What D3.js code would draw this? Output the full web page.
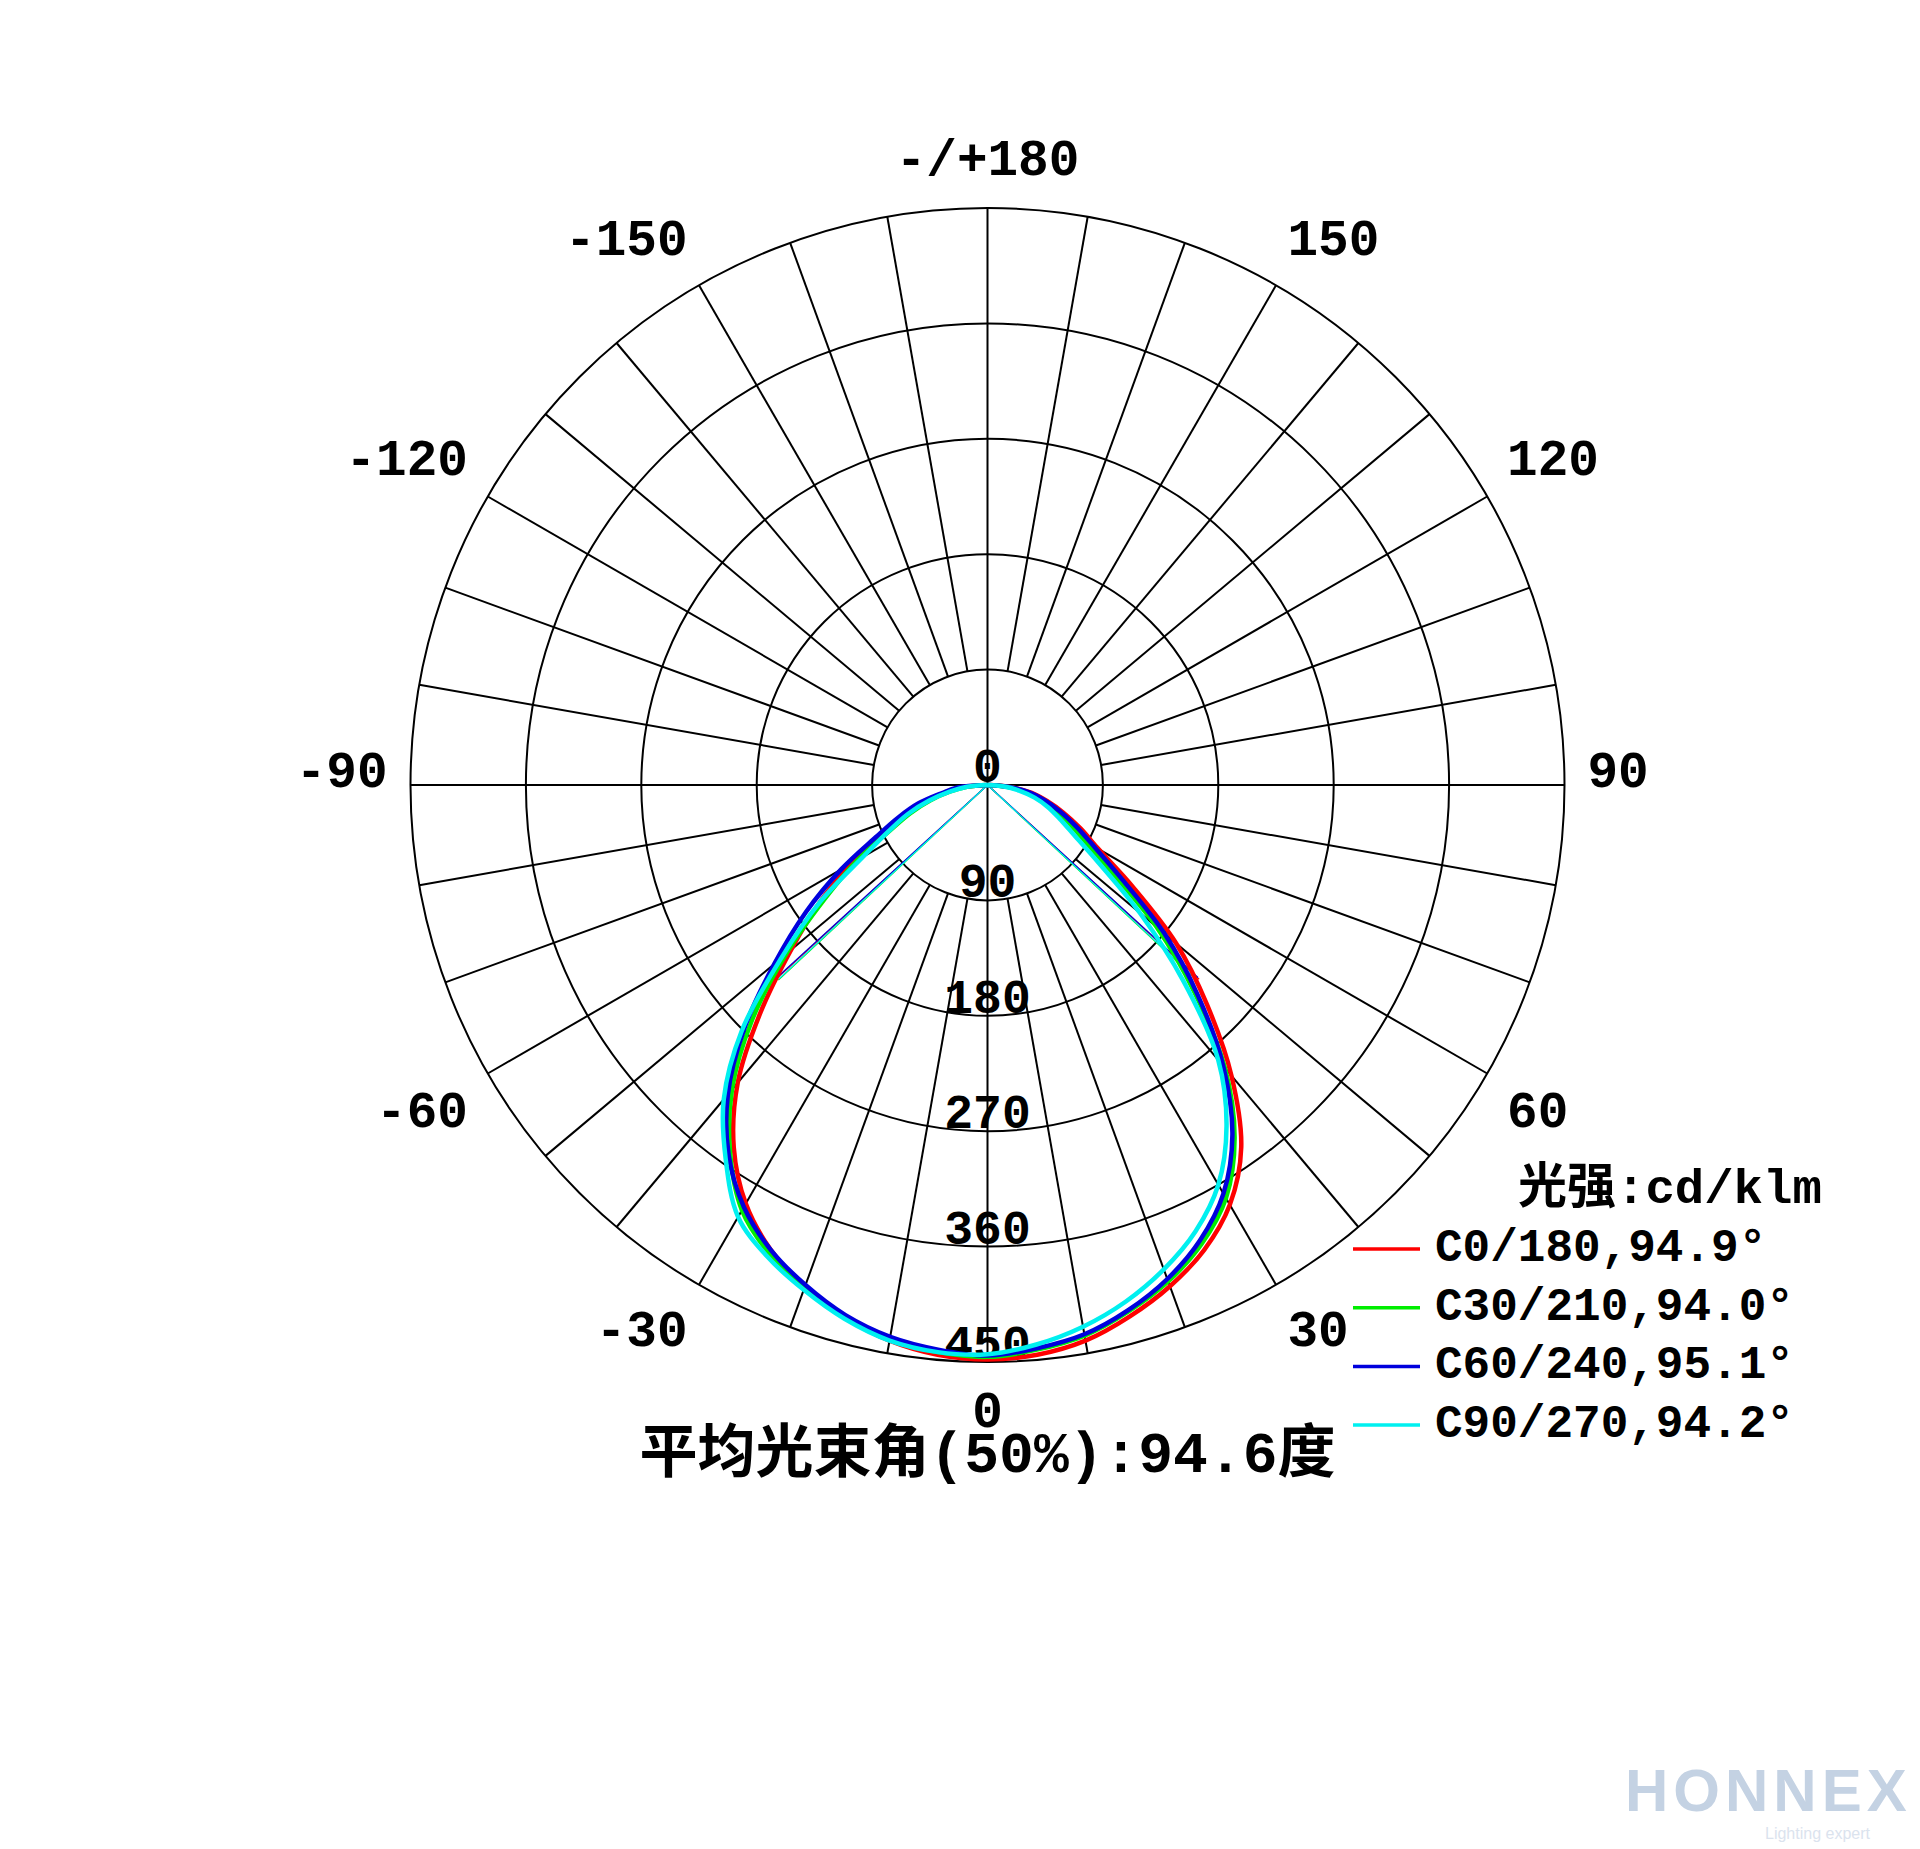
<!DOCTYPE html>
<html><head><meta charset="utf-8">
<script src="https://cdn.jsdelivr.net/npm/d3@7"></script>
<style>html,body{margin:0;padding:0;background:#fff;} svg{display:block;}</style>
</head><body>
<svg id="chart" width="1920" height="1849"></svg>
<script>
// ---------- data ----------
const gammaAngles = [-90,-85,-80,-75,-70,-65,-60,-55,-50,-45,-40,-35,-30,-25,-20,-15,-10,-5,0,5,10,15,20,25,30,35,40,45,50,55,60,65,70,75,80,85,90];
const seriesNames = ["C0/180,94.9°","C30/210,94.0°","C60/240,95.1°","C90/270,94.2°"];
const seriesColors = ["#ff0000","#00ee00","#0000dd","#00f0f0"];
const beamAngles = [94.9, 94.0, 95.1, 94.2];
// intensities (cd/klm) from gamma -90 (left half plane) to +90 (right half plane)
const c0_180  = [0,20,33,50,70,92,123,160,200,250,303,345,377,400,417,430,440,446,448,446,440,429,416,400,378,345,296,242,192,138,100,80,63,48,35,17,0];
const c30_210 = [0,16,30,46,64,84,117,155,205,260,310,350,383,403,418,430,439,444,446,442,436,425,412,395,372,336,288,228,172,118,88,70,55,42,30,15,0];
const c60_240 = [0,24,36,56,74,96,132,173,217,268,315,352,380,400,415,428,437,442,445,441,435,424,410,392,368,333,286,232,180,128,96,76,60,46,33,16,0];
const c90_270 = [0,16,30,47,66,85,112,160,210,271,320,356,389,406,419,431,440,444,444,438,429,417,402,384,360,325,280,216,155,106,78,62,50,38,25,12,0];
const seriesValues = [c0_180, c30_210, c60_240, c90_270];
const ringValues = [90,180,270,360,450];
const ringLabels = ["0","90","180","270","360","450"];
const angleTickValues = [180,150,120,90,60,30,0,-30,-60,-90,-120,-150];
const angleTickLabels = ["-/+180","150","120","90","60","30","0","-30","-60","-90","-120","-150"];
const spokeAngles = d3.range(-170, 181, 10);
const unitLabel = "光强:cd/klm";
const titleText = "平均光束角(50%):94.6度";

// ---------- layout ----------
const cx = 987.5, cy = 785, R = 577;
const svg = d3.select("#chart");
const r = d3.scaleLinear().domain([0, 450]).range([0, R]);
const toA = g => Math.PI - g * Math.PI / 180;
const px = (g, rr) => cx + rr * Math.sin(toA(g));
const py = (g, rr) => cy - rr * Math.cos(toA(g));
const monoFont = "'Liberation Mono', 'Courier New', monospace";

const grid = svg.append("g").attr("stroke", "#000").attr("stroke-width", 2).attr("fill", "none");
grid.selectAll("circle").data(ringValues).join("circle")
  .attr("cx", cx).attr("cy", cy).attr("r", d => r(d));
grid.selectAll("line").data(spokeAngles).join("line")
  .attr("x1", g => px(g, (g % 90 === 0) ? 0 : r(ringValues[0])))
  .attr("y1", g => py(g, (g % 90 === 0) ? 0 : r(ringValues[0])))
  .attr("x2", g => px(g, R)).attr("y2", g => py(g, R));

// ring labels
svg.append("g").selectAll("text").data(ringLabels).join("text")
  .attr("x", cx).attr("y", (d) => cy + r(+d) - 3)
  .attr("text-anchor", "middle")
  .attr("font-family", monoFont).attr("font-weight", "bold").attr("font-size", 48)
  .attr("fill", "#000").text(d => d);

// angle labels
svg.append("g").selectAll("text").data(angleTickValues).join("text")
  .attr("x", g => {
    const s = Math.sin(g * Math.PI / 180);
    if (Math.abs(s) < 0.01) return cx;
    return cx + (s > 0 ? 600 : -600) * Math.abs(s);
  })
  .attr("y", g => {
    const c = Math.cos(g * Math.PI / 180);
    const off = c > 0.01 ? 28 : (c < -0.01 ? -24 : -12);
    return cy + 600 * c + off;
  })
  .attr("dominant-baseline", "central")
  .attr("text-anchor", g => {
    const s = Math.sin(g * Math.PI / 180);
    return Math.abs(s) < 0.01 ? "middle" : (s > 0 ? "start" : "end");
  })
  .attr("font-family", monoFont).attr("font-weight", "bold").attr("font-size", 51)
  .attr("fill", "#000").text((g, i) => angleTickLabels[i]);

// half beam lines
const halfG = svg.append("g");
seriesValues.forEach((vals, si) => {
  const half = 0.5 * d3.max(vals);
  [-1, 1].forEach(sgn => {
    const g = sgn * beamAngles[si] / 2;
    halfG.append("line")
      .attr("x1", cx).attr("y1", cy)
      .attr("x2", px(g, r(half))).attr("y2", py(g, r(half)))
      .attr("stroke", seriesColors[si]).attr("stroke-width", 1.2);
  });
});

// curves
const lineGen = d3.lineRadial()
  .angle((d, i) => toA(gammaAngles[i]))
  .radius(d => r(d))
  .curve(d3.curveCatmullRom.alpha(0.5));
svg.append("g").attr("transform", `translate(${cx},${cy})`)
  .selectAll("path").data(seriesValues).join("path")
  .attr("d", d => lineGen(d))
  .attr("fill", "none")
  .attr("stroke", (d, i) => seriesColors[i])
  .attr("stroke-width", 4.5)
  .attr("stroke-linejoin", "round");

// legend
const lg = svg.append("g");
lg.append("text").attr("x", 1518).attr("y", 1190).attr("dominant-baseline", "central")
  .attr("font-family", "'Liberation Mono', 'Noto Sans CJK SC', monospace").attr("font-weight", "bold")
  .attr("font-size", 49).attr("fill", "#000").text(unitLabel);
seriesNames.forEach((nm, i) => {
  const y = 1249 + i * 58.7;
  lg.append("line").attr("x1", 1353).attr("x2", 1420).attr("y1", y).attr("y2", y)
    .attr("stroke", seriesColors[i]).attr("stroke-width", 3.5);
  lg.append("text").attr("x", 1435).attr("y", y).attr("dominant-baseline", "central")
    .attr("font-family", monoFont).attr("font-weight", "bold").attr("font-size", 46)
    .attr("fill", "#000").text(nm);
});

// title
svg.append("text").attr("x", cx).attr("y", 1456).attr("text-anchor", "middle")
  .attr("dominant-baseline", "central")
  .attr("font-family", "'Liberation Mono', 'Noto Sans CJK SC', monospace").attr("font-weight", "bold")
  .attr("font-size", 58).attr("fill", "#000").text(titleText);

// watermark
svg.append("text").attr("x", 1625).attr("y", 1811)
  .attr("font-family", "'Liberation Sans', Arial, sans-serif").attr("font-weight", "bold")
  .attr("font-size", 60).attr("letter-spacing", 5).attr("fill", "#c4d2e3").text("HONNEX");
svg.append("text").attr("x", 1765).attr("y", 1839)
  .attr("font-family", "'Liberation Sans', Arial, sans-serif")
  .attr("font-size", 16).attr("fill", "#dbe3ee").text("Lighting expert");
</script>
</body></html>
